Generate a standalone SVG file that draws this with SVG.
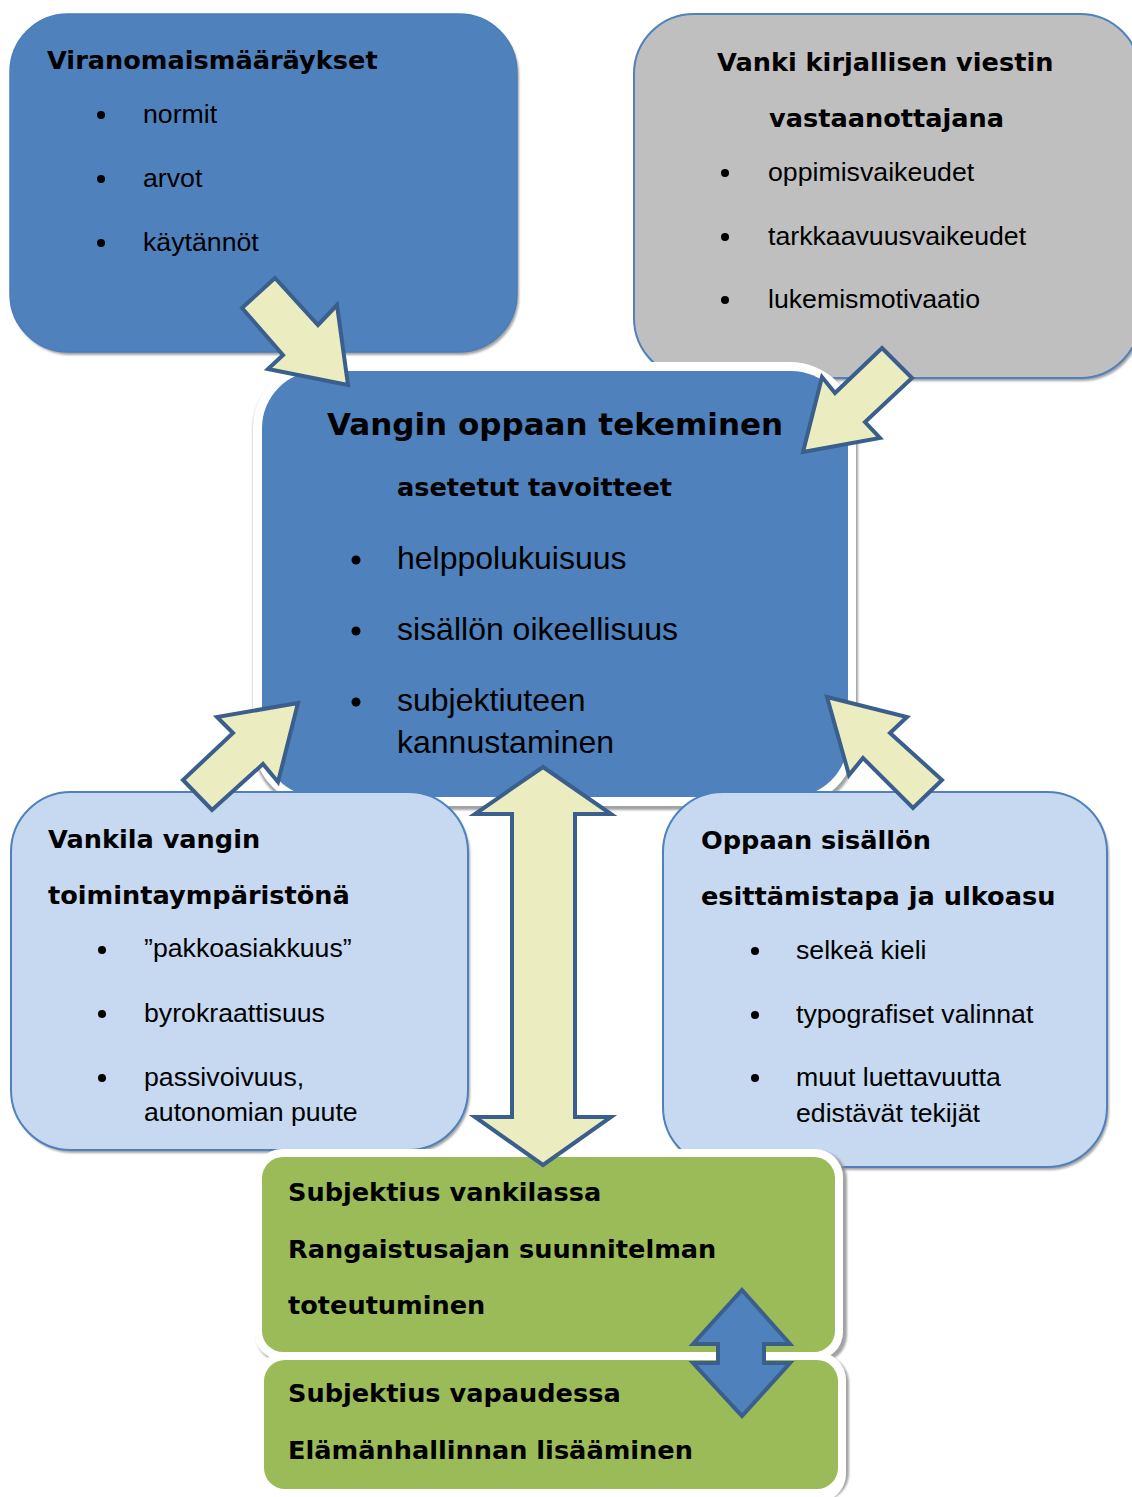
<svg xmlns="http://www.w3.org/2000/svg" width="1132" height="1497" viewBox="0 0 1132 1497">
<defs>
<style>
.h{font-family:"DejaVu Sans",Verdana,sans-serif;font-weight:bold;font-size:25.6px;fill:#000}
.ht{font-family:"DejaVu Sans",Verdana,sans-serif;font-weight:bold;font-size:31px;fill:#000}
.b{font-family:"Liberation Sans",Arial,sans-serif;font-size:26.7px;fill:#000}
.bl{font-family:"Liberation Sans",Arial,sans-serif;font-size:32px;fill:#000}
.dk{fill:#4F81BD;stroke:#4A7EBB;stroke-width:1.5}
.gr{fill:#BFBFBF;stroke:#4F81BD;stroke-width:2}
.lt{fill:#C6D9F1;stroke:#4F81BD;stroke-width:2}
.sh{fill:#8C8C8C;opacity:0.8}
.wh{fill:#FFFFFF}
.gn{fill:#9BBB59}
.arr{fill:#EBECC0;stroke:#3A5F8C;stroke-width:4;stroke-linejoin:miter}
.arb{fill:#4F81BD;stroke:#3A5F8C;stroke-width:4}
</style>
<filter id="blur" x="-5%" y="-5%" width="110%" height="110%"><feGaussianBlur stdDeviation="1.2"/></filter>
</defs>
<rect width="1132" height="1497" fill="#FFFFFF"/>

<g id="node-viranomais">
<rect class="sh" x="12" y="17" width="507" height="338" rx="58" filter="url(#blur)"/>
<rect class="dk" x="10" y="14" width="507" height="338" rx="58"/>
<text class="h" x="47" y="69">Viranomaismääräykset</text>
<circle cx="101" cy="115" r="4"/><text class="b" x="143" y="123">normit</text>
<circle cx="101" cy="179" r="4"/><text class="b" x="143" y="187">arvot</text>
<circle cx="101" cy="243" r="4"/><text class="b" x="143" y="251">käytännöt</text>
</g>

<g id="node-vanki">
<rect class="sh" x="636" y="17" width="506" height="364" rx="60" filter="url(#blur)"/>
<rect class="gr" x="634" y="14" width="506" height="364" rx="60"/>
<text class="h" x="717" y="71">Vanki kirjallisen viestin</text>
<text class="h" x="769" y="127">vastaanottajana</text>
<circle cx="725" cy="173" r="4"/><text class="b" x="768" y="181">oppimisvaikeudet</text>
<circle cx="725" cy="237" r="4"/><text class="b" x="768" y="245">tarkkaavuusvaikeudet</text>
<circle cx="725" cy="300" r="4"/><text class="b" x="768" y="308">lukemismotivaatio</text>
</g>

<g id="node-opas">
<rect class="sh" x="253" y="364" width="605" height="446" rx="66" filter="url(#blur)"/>
<rect class="wh" x="253" y="362" width="603" height="444" rx="66"/>
<rect fill="#4F81BD" x="262" y="371" width="586" height="426" rx="57"/>
<text class="ht" x="327" y="435">Vangin oppaan tekeminen</text>
<text class="h" x="397" y="496">asetetut tavoitteet</text>
<circle cx="356" cy="560" r="4.5"/><text class="bl" x="397" y="569">helppolukuisuus</text>
<circle cx="356" cy="631" r="4.5"/><text class="bl" x="397" y="640">sisällön oikeellisuus</text>
<circle cx="356" cy="702" r="4.5"/><text class="bl" x="397" y="711">subjektiuteen</text>
<text class="bl" x="397" y="753">kannustaminen</text>
</g>

<g id="node-vankila">
<rect class="sh" x="13" y="795" width="457" height="358" rx="60" filter="url(#blur)"/>
<rect class="lt" x="11" y="792" width="457" height="358" rx="60"/>
<text class="h" x="48" y="848">Vankila vangin</text>
<text class="h" x="48" y="904">toimintaympäristönä</text>
<circle cx="102" cy="950" r="4"/><text class="b" x="144" y="957">”pakkoasiakkuus”</text>
<circle cx="102" cy="1014" r="4"/><text class="b" x="144" y="1022">byrokraattisuus</text>
<circle cx="102" cy="1078" r="4"/><text class="b" x="144" y="1086">passivoivuus,</text>
<text class="b" x="144" y="1121">autonomian puute</text>
</g>

<g id="node-oppaan">
<rect class="sh" x="665" y="795" width="444" height="375" rx="60" filter="url(#blur)"/>
<rect class="lt" x="663" y="792" width="444" height="375" rx="60"/>
<text class="h" x="701" y="849">Oppaan sisällön</text>
<text class="h" x="701" y="905">esittämistapa ja ulkoasu</text>
<circle cx="755" cy="951" r="4"/><text class="b" x="796" y="959">selkeä kieli</text>
<circle cx="755" cy="1015" r="4"/><text class="b" x="796" y="1023">typografiset valinnat</text>
<circle cx="755" cy="1078" r="4"/><text class="b" x="796" y="1086">muut luettavuutta</text>
<text class="b" x="796" y="1122">edistävät tekijät</text>
</g>

<g id="node-vankilassa">
<rect class="sh" x="256" y="1151" width="591" height="212" rx="28" filter="url(#blur)"/>
<rect class="wh" x="254" y="1149" width="589" height="211" rx="28"/>
<rect class="gn" x="262" y="1157" width="573" height="195" rx="21"/>
<text class="h" x="288" y="1201">Subjektius vankilassa</text>
<text class="h" x="288" y="1258">Rangaistusajan suunnitelman</text>
<text class="h" x="288" y="1314">toteutuminen</text>
</g>

<g id="node-vapaudessa">
<rect class="sh" x="258" y="1355" width="591" height="146" rx="28" filter="url(#blur)"/>
<rect class="wh" x="256" y="1352" width="590" height="150" rx="28"/>
<rect class="gn" x="264" y="1360" width="574" height="129" rx="21"/>
<text class="h" x="288" y="1402">Subjektius vapaudessa</text>
<text class="h" x="288" y="1459">Elämänhallinnan lisääminen</text>
</g>

<g id="connectors">
<polygon class="arr" points="242,308 275,278 318,325 337,305 348,385 268,369 283,355"/>
<polygon class="arr" points="882,348 912,378 865,422 880,438 803,452 822,377 835,393"/>
<polygon class="arr" points="298,703 217,717 233,733 183,780 212,810 263,764 278,782"/>
<polygon class="arr" points="827,697 907,717 890,733 942,780 913,808 863,758 849,775"/>
<polygon class="arr" points="543,767 611,814 575,814 575,1117 611,1117 543,1165 475,1117 512,1117 512,814 475,814"/>
<polygon class="arb" points="742,1290 790,1344 764,1344 764,1363 790,1363 742,1416 693,1363 718,1363 718,1344 693,1344"/>
</g>
</svg>
